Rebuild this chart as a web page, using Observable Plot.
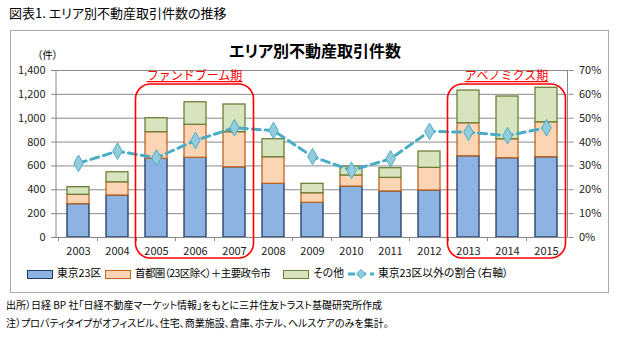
<!DOCTYPE html>
<html><head><meta charset="utf-8">
<script src="https://cdn.jsdelivr.net/npm/d3@7"></script>
<script src="https://cdn.jsdelivr.net/npm/@observablehq/plot@0.6"></script>
<style>
body{margin:0;width:620px;height:351px;position:relative;background:#fff;font-family:"Noto Sans CJK JP","Noto Sans",sans-serif;color:#000;overflow:hidden;font-feature-settings:"palt"}
.abs{position:absolute;white-space:nowrap}
#frame{left:10px;top:30px;width:597px;height:261px;border:1px solid #aaa}
.sw{display:inline-block;width:24px;height:7px;border:1px solid;vertical-align:middle;margin-right:4px}
.li{position:absolute;top:264px;font-size:10.8px;line-height:16px}
</style></head>
<body>
<div class="abs" style="left:9px;top:5px;font-size:13px;line-height:16px">図表1. エリア別不動産取引件数の推移</div>
<div class="abs" id="frame"></div>
<div class="abs" style="left:0;width:620px;top:40px;text-align:center;font-size:16px;font-weight:bold;line-height:20px"><span style="position:relative;left:5px">エリア別不動産取引件数</span></div>
<div class="abs" style="left:37px;top:47px;font-size:10.5px">（件）</div>
<div id="chart" class="abs" style="left:0;top:30px"></div>
<div class="li" style="left:27px"><span class="sw" style="background:#8db3e2;border-color:#1f3a60"></span>東京23区</div>
<div class="li" style="left:105px"><span class="sw" style="background:#fcd5b5;border-color:#c0651f"></span><span style="letter-spacing:-0.6px;font-size:10.5px">首都圏（23区除く）＋主要政令市</span></div>
<div class="li" style="left:283px"><span class="sw" style="background:#d7e4bd;border-color:#6b7f3a"></span>その他</div>
<div class="li" style="left:347px"><svg width="28" height="12" style="vertical-align:middle;margin-right:3px"><line x1="1" y1="6" x2="27" y2="6" stroke="#4bacc6" stroke-width="3" stroke-dasharray="7,4"/><path d="M14,1.5L18.5,6L14,10.5L9.5,6Z" fill="#93cddd" stroke="#4bacc6"/></svg>東京23区以外の割合（右軸）</div>
<div class="abs" style="left:6px;top:298px;font-size:10px;line-height:14px">出所）日経 BP 社「日経不動産マーケット情報」をもとに三井住友トラスト基礎研究所作成</div>
<div class="abs" style="left:6px;top:316px;font-size:10px;line-height:14px">注）プロパティタイプがオフィスビル、住宅、商業施設、倉庫、ホテル、ヘルスケアのみを集計。</div>
<script>
const years = ["2003","2004","2005","2006","2007","2008","2009","2010","2011","2012","2013","2014","2015"];
const seriesNames = ["東京23区","首都圏（23区除く）＋主要政令市","その他"];
const tokyo23 = [280,352,660,668,589,450,291,427,386,394,681,665,673];
const shutoken = [78,111,223,277,294,223,80,93,114,190,277,159,293];
const other = [64,84,117,189,232,151,79,75,81,137,274,358,289];
const shareOutside = [31.1,36.2,33.4,40.7,46.0,44.8,33.9,28.1,33.0,44.5,44.1,42.7,46.0];
const leftTicks = [0,200,400,600,800,1000,1200,1400];
const rightTicks = [0,10,20,30,40,50,60,70];
const periods = [
  {label:"ファンドブーム期", from:"2005", to:"2007"},
  {label:"アベノミクス期", from:"2013", to:"2015"}
];

const fills = ["#8db3e2","#fcd5b5","#d7e4bd"];
const strokes = ["#1f3a60","#c0651f","#6b7f3a"];
const leftMax = leftTicks[leftTicks.length-1];
const rightMax = rightTicks[rightTicks.length-1];
const k = leftMax / rightMax;

const rows = [];
years.forEach((yr,i)=>{
  [tokyo23,shutoken,other].forEach((arr,s)=>rows.push({year:yr, s, value:arr[i]}));
});
const lineData = years.map((yr,i)=>({year:yr, v: shareOutside[i]*k}));

function decorations(index, scales, values, dim) {
  const x = scales.x, y = scales.y;
  const bw = x.bandwidth();
  const step = x(years[1]) - x(years[0]);
  const g = d3.create("svg:g");
  const y0 = y(0);
  for (let i=0;i<=years.length;i++){
    const xb = (i<years.length ? x(years[i]) + bw/2 - step/2 : x(years[years.length-1]) + bw/2 + step/2);
    g.append("line").attr("x1",xb).attr("x2",xb).attr("y1",y0).attr("y2",y0+4).attr("stroke","#888");
  }
  for (const p of periods){
    const xa = x(p.from) + bw/2 - step/2 - 1;
    const xb = x(p.to) + bw/2 + step/2;
    const top = y(leftMax) + 14;
    const bottom = y0 + 21;
    g.append("rect").attr("x",xa).attr("y",top).attr("width",xb-xa).attr("height",bottom-top)
      .attr("rx",15).attr("fill","none").attr("stroke","#ff0000").attr("stroke-width",1.6);
    g.append("text").attr("x",(xa+xb)/2).attr("y",top-4).attr("text-anchor","middle")
      .attr("fill","#ff0000").attr("font-size",12).attr("text-decoration","underline")
      .style("font-feature-settings","normal")
      .attr("font-family","'Noto Sans CJK JP',sans-serif").text(p.label);
  }
  return g.node();
}

const chart = Plot.plot({
  width: 620, height: 262,
  marginLeft: 56, marginRight: 52.5, marginTop: 40, marginBottom: 55,
  style: {background:"transparent", fontSize:"11px", fontFamily:"'Noto Sans CJK JP',sans-serif", color:"#222", overflow:"visible"},
  x: {domain: years, paddingInner: 0.43, paddingOuter: 0.215, align: 0.5, axis: null, label: null},
  y: {domain: [0, leftMax], axis: null, label: null},
  marks: [
    Plot.gridY(leftTicks, {stroke:"#8a8a8a", strokeOpacity:1}),
    Plot.axisY(leftTicks, {anchor:"left", tickFormat: d3.format(","), tickSize:5, tickPadding:6, stroke:"#888", fill:"#222", label:null}),
    Plot.axisY(rightTicks.map(t=>t*k), {anchor:"right", tickFormat: d => (d/k)+"%", tickSize:5, tickPadding:6, stroke:"#888", fill:"#222", label:null}),
    Plot.barY(rows, {x:"year", y:"value", fill: d=>fills[d.s], stroke: d=>strokes[d.s], strokeWidth:1.3}),
    Plot.axisX({tickSize:0, tickPadding:10, fill:"#222", label:null}),
    Plot.ruleY([0], {stroke:"#888"}),
    Plot.line(lineData, {x:"year", y:"v", stroke:"#4bacc6", strokeWidth:3, strokeDasharray:"8,5"}),
    Plot.dot(lineData, {x:"year", y:"v", symbol:"diamond", r:5, fill:"#93cddd", stroke:"#4bacc6", strokeWidth:1}),
    decorations
  ]
});
document.getElementById("chart").append(chart);
const svg = d3.select(chart);
svg.append("line").attr("x1",56).attr("x2",56).attr("y1",40).attr("y2",207).attr("stroke","#888");
svg.append("line").attr("x1",620-52.5).attr("x2",620-52.5).attr("y1",40).attr("y2",207).attr("stroke","#888");
</script>
</body></html>
